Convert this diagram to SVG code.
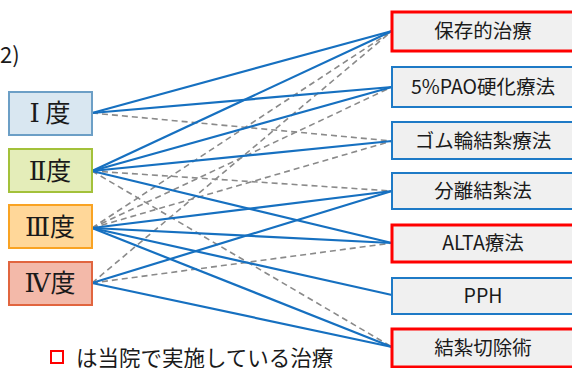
<svg xmlns="http://www.w3.org/2000/svg" width="572" height="368" viewBox="0 0 572 368">
<style>
text{font-family:"Noto Sans CJK JP","Noto Sans",sans-serif;fill:#1a1a1a}
.lbl{font-size:25px;text-anchor:middle}
.rn{font-family:"DejaVu Serif",serif;font-size:26px}
.tr{font-size:19.5px;text-anchor:middle}
.rb{fill:#F0F0F0;stroke-width:2}
.blue{stroke:#1E7AC6}
.red{stroke:#FF0000;stroke-width:3}
.s{stroke:#1670C0;stroke-width:2.2;fill:none}
.d{stroke:#8A8A8A;stroke-width:1.6;stroke-dasharray:6 4;fill:none}
</style>
<text x="0" y="63" style="font-size:22px">2)</text>
<g id="connectors">
<line class="d" x1="92" y1="113" x2="392" y2="141"/>
<line class="d" x1="92" y1="171" x2="392" y2="191"/>
<line class="d" x1="92" y1="171" x2="392" y2="347"/>
<line class="d" x1="92" y1="228" x2="392" y2="31"/>
<line class="d" x1="92" y1="228" x2="392" y2="87"/>
<line class="d" x1="92" y1="228" x2="392" y2="141"/>
<line class="d" x1="92" y1="283" x2="392" y2="31"/>
<line class="d" x1="92" y1="283" x2="392" y2="243"/>
<line class="s" x1="92" y1="113" x2="392" y2="31"/>
<line class="s" x1="92" y1="113" x2="392" y2="87"/>
<line class="s" x1="92" y1="171" x2="392" y2="31"/>
<line class="s" x1="92" y1="171" x2="392" y2="87"/>
<line class="s" x1="92" y1="171" x2="392" y2="141"/>
<line class="s" x1="92" y1="171" x2="392" y2="243"/>
<line class="s" x1="92" y1="228" x2="392" y2="191"/>
<line class="s" x1="92" y1="228" x2="392" y2="243"/>
<line class="s" x1="92" y1="228" x2="392" y2="295"/>
<line class="s" x1="92" y1="228" x2="392" y2="347"/>
<line class="s" x1="92" y1="283" x2="392" y2="191"/>
<line class="s" x1="92" y1="283" x2="392" y2="347"/>
</g>
<g id="g1"><rect x="9" y="92" width="83" height="43" fill="#D9E7F1" stroke="#6C9FC6" stroke-width="2"/><text class="lbl" x="50" y="122"><tspan class="rn">Ⅰ</tspan> 度</text></g>
<g id="g2"><rect x="9" y="149" width="83" height="43" fill="#E4EDB9" stroke="#A3C13A" stroke-width="2"/><text class="lbl" x="50" y="180"><tspan class="rn">Ⅱ</tspan>度</text></g>
<g id="g3"><rect x="9" y="205" width="83" height="43" fill="#FFD799" stroke="#F9A323" stroke-width="2"/><text class="lbl" x="50" y="236"><tspan class="rn">Ⅲ</tspan>度</text></g>
<g id="g4"><rect x="9" y="262" width="83" height="43" fill="#F3B9A9" stroke="#E1653F" stroke-width="2"/><text class="lbl" x="50" y="292"><tspan class="rn">Ⅳ</tspan>度</text></g>
<g id="t1"><rect class="rb red" x="392" y="12" width="184" height="39"/><text class="tr" x="483" y="38">保存的治療</text></g>
<g id="t2"><rect class="rb blue" x="392" y="67" width="184" height="40"/><text class="tr" x="483" y="94">5%PAO硬化療法</text></g>
<g id="t3"><rect class="rb blue" x="392" y="122" width="184" height="37"/><text class="tr" x="483" y="148">ゴム輪結紮療法</text></g>
<g id="t4"><rect class="rb blue" x="392" y="173" width="184" height="36"/><text class="tr" x="483" y="198">分離結紮法</text></g>
<g id="t5"><rect class="rb red" x="392" y="225" width="184" height="37"/><text class="tr" x="483" y="250">ALTA療法</text></g>
<g id="t6"><rect class="rb blue" x="392" y="278" width="184" height="36"/><text class="tr" x="483" y="303">PPH</text></g>
<g id="t7"><rect class="rb red" x="392" y="329" width="184" height="38"/><text class="tr" x="483" y="355">結紮切除術</text></g>
<g id="legend"><rect x="51" y="351" width="12" height="12" fill="none" stroke="#FF0000" stroke-width="2"/><text x="76" y="366" style="font-size:21.5px">は当院で実施している治療</text></g>
</svg>
